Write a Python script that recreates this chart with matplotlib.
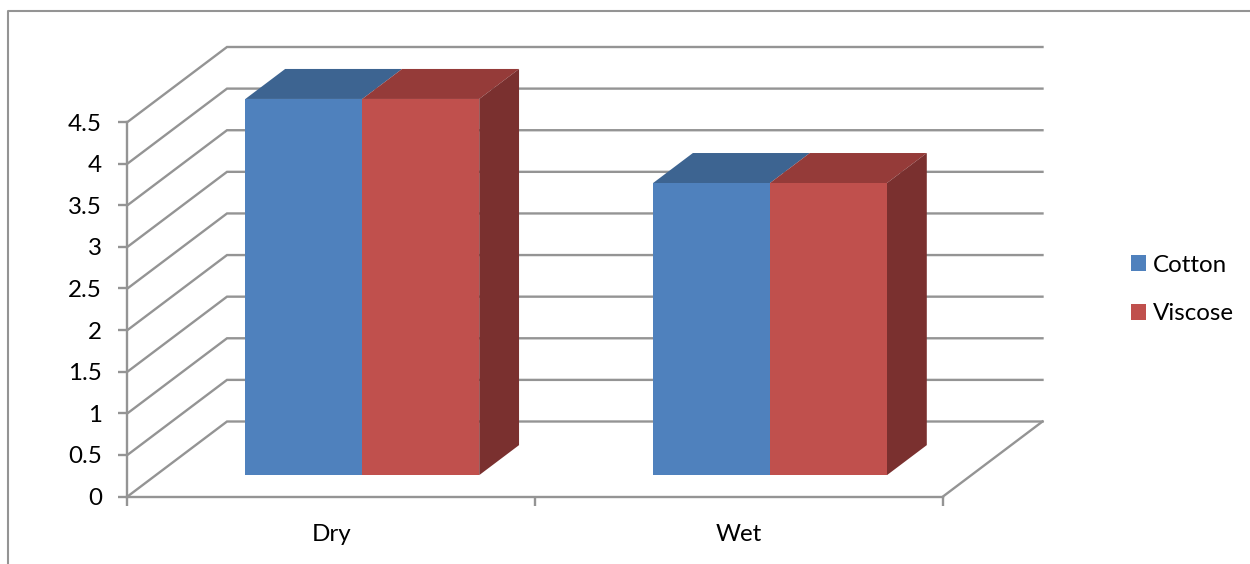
import matplotlib
matplotlib.use("Agg")
import matplotlib.pyplot as plt
from matplotlib.lines import Line2D
from matplotlib.patches import Polygon

categories = ["Dry", "Wet"]
series_names = ["Cotton", "Viscose"]
cotton = [4.52, 3.51]
viscose = [4.52, 3.51]
y_ticks = [0, 0.5, 1, 1.5, 2, 2.5, 3, 3.5, 4, 4.5]
y_tick_labels = ["0", "0.5", "1", "1.5", "2", "2.5", "3", "3.5", "4", "4.5"]

W, H = 1250, 564
LINE = "#949494"
FRONT = ["#4F81BD", "#C0504D"]
TOP = ["#3D6491", "#953B39"]
SIDE = "#7A302F"

plt.rcParams["font.family"] = ["Lato", "DejaVu Sans"]
fig = plt.figure(figsize=(W / 100, H / 100), dpi=100, facecolor="white")

# outer chart border: only the top and left edges fall inside the canvas
fig.add_artist(Line2D([8 / W, 8 / W, 1], [0, 1 - 11 / H, 1 - 11 / H],
                      transform=fig.transFigure, color=LINE, lw=1.5))

# the axes rectangle is the front plane of the 3D box
x0, x1, ytop, ybot = 127.5, 943, 122, 496.5
ax = fig.add_axes([x0 / W, 1 - ybot / H, (x1 - x0) / W, (ybot - ytop) / H])
ax.set_xlim(0, 2)
ax.set_ylim(0, 4.5)
ax.patch.set_alpha(0)

# oblique projection: a depth of 1 shifts a point right and up in data units
SHIFT_X = 99.5 / ((x1 - x0) / 2)
SHIFT_Y = 75 / ((ybot - ytop) / 4.5)


def project(x, y, depth):
    return x + SHIFT_X * depth, y + SHIFT_Y * depth


# wall gridlines with their diagonals on the side wall
for v in y_ticks:
    pts = [project(0, v, 0), project(0, v, 1), project(2, v, 1)]
    ax.plot(*zip(*pts), color=LINE, lw=1.7, clip_on=False, zorder=1,
            solid_joinstyle="miter")

# right edge of the floor
pts = [project(2, 0, 0), project(2, 0, 1)]
ax.plot(*zip(*pts), color=LINE, lw=1.7, clip_on=False, zorder=1)

# bars: front faces through ax.bar, top and side faces as projected polygons
BAR_W = 0.2868
BAR_OFFSET = 0.2195
DEPTH_FRONT = 0.285
DEPTH_BACK = 0.685
base = SHIFT_Y * DEPTH_FRONT

for i, values in enumerate([cotton, viscose]):
    lefts = [c + BAR_OFFSET + i * BAR_W + SHIFT_X * DEPTH_FRONT
             for c in range(len(categories))]
    ax.bar(lefts, values, width=BAR_W, bottom=base, align="edge",
           color=FRONT[i], label=series_names[i], clip_on=False, zorder=3 + i)
    for left, v in zip(lefts, values):
        xa = left - SHIFT_X * DEPTH_FRONT
        ya = v
        top = [project(xa, ya, DEPTH_FRONT), project(xa, ya, DEPTH_BACK),
               project(xa + BAR_W, ya, DEPTH_BACK), project(xa + BAR_W, ya, DEPTH_FRONT)]
        ax.add_patch(Polygon(top, closed=True, fc=TOP[i], ec="none",
                             clip_on=False, zorder=2 + i))
        if i == 1:
            side = [project(xa + BAR_W, 0, DEPTH_FRONT), project(xa + BAR_W, 0, DEPTH_BACK),
                    project(xa + BAR_W, ya, DEPTH_BACK), project(xa + BAR_W, ya, DEPTH_FRONT)]
            ax.add_patch(Polygon(side, closed=True, fc=SIDE, ec="none",
                                 clip_on=False, zorder=2 + i))

for name in ("top", "right"):
    ax.spines[name].set_visible(False)
for name in ("left", "bottom"):
    ax.spines[name].set_color(LINE)
    ax.spines[name].set_linewidth(1.7)

ax.set_yticks(y_ticks, y_tick_labels)
ax.set_xticks([0, 1, 2], ["", "", ""])
ax.set_xticks([0.5, 1.5], categories, minor=True)
ax.tick_params(axis="y", length=6.5, width=1.7, color=LINE, labelsize=17.4,
               labelcolor="black", pad=12)
ax.tick_params(axis="x", which="major", length=6.5, width=1.7, color=LINE)
ax.tick_params(axis="x", which="minor", length=0, labelsize=17.4,
               labelcolor="black", pad=20)

ax.legend(loc="center left", bbox_to_anchor=(1123.75 / W, 1 - 289.5 / H),
          bbox_transform=fig.transFigure, frameon=False, fontsize=17.4,
          handlelength=0.62, handleheight=0.62, handletextpad=0.29,
          labelspacing=1.15, borderpad=0.3, borderaxespad=0)

fig.savefig("out.png", dpi=100, facecolor="white")
